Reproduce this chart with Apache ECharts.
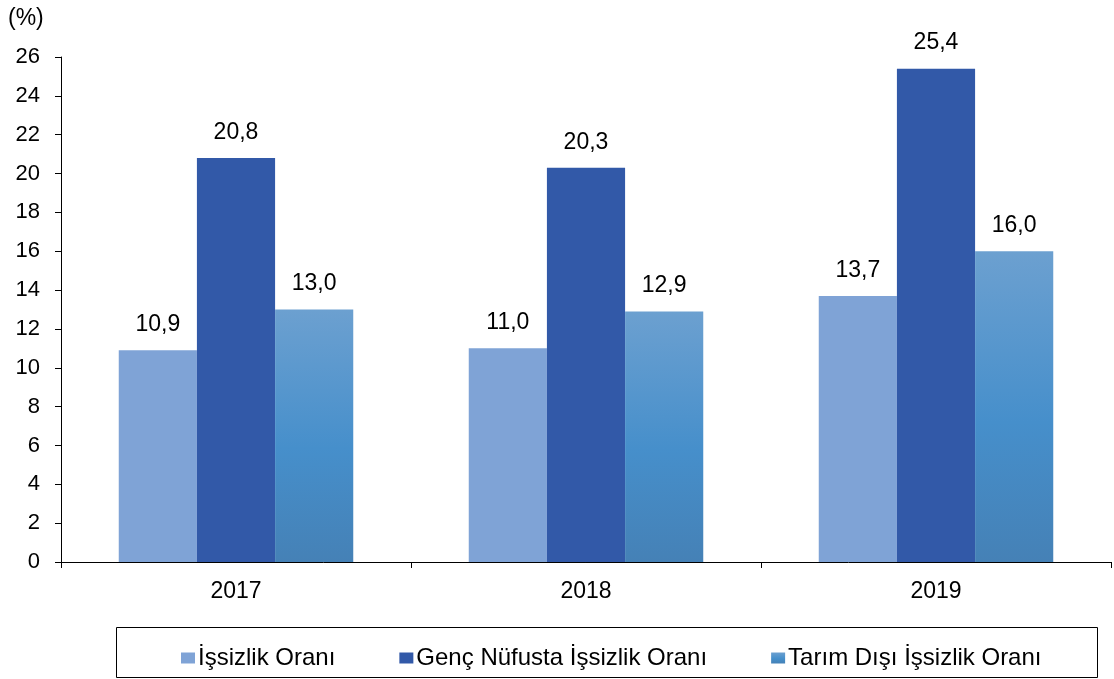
<!DOCTYPE html>
<html><head><meta charset="utf-8">
<script src="https://cdn.jsdelivr.net/npm/echarts@6/dist/echarts.min.js"></script>
<style>html,body{margin:0;padding:0;background:#fff}#c{width:1114px;height:679px}</style>
</head><body><div id="c"></div>
<script>
const categories = ['2017', '2018', '2019'];
const seriesNames = ['İşsizlik Oranı', 'Genç Nüfusta İşsizlik Oranı', 'Tarım Dışı İşsizlik Oranı'];
const issizlik = [10.9, 11.0, 13.7];
const gencIssizlik = [20.8, 20.3, 25.4];
const tarimDisi = [13.0, 12.9, 16.0];
const yTicks = [0, 2, 4, 6, 8, 10, 12, 14, 16, 18, 20, 22, 24, 26];

const FONT = '"Liberation Sans", Arial, sans-serif';
const chart = echarts.init(document.getElementById('c'), null, {renderer: 'canvas'});
const grad = new echarts.graphic.LinearGradient(0, 0, 0, 1, [
  {offset: 0, color: '#6CA0D0'},
  {offset: 0.55, color: '#468FCB'},
  {offset: 1, color: '#4581B6'}
]);
const lbl = {
  show: true, position: 'top', distance: 14, color: '#000',
  fontFamily: FONT, fontSize: 23,
  formatter: p => p.value.toFixed(1).replace('.', ',')
};
chart.setOption({
  animation: false,
  textStyle: {fontFamily: FONT},
  grid: {left: 61, top: 57, right: 3, bottom: 117, containLabel: false},
  graphic: [
    {type: 'text', left: 8, top: 7, style: {text: '(%)', font: '23px ' + FONT, fill: '#000'}},
    {type: 'rect', shape: {x: 116.5, y: 627.5, width: 981, height: 50}, style: {fill: 'none', stroke: '#000', lineWidth: 1}}
  ],
  legend: {
    top: 641, left: 176, itemWidth: 14, itemHeight: 11, itemGap: 64,
    icon: 'rect',
    textStyle: {fontFamily: FONT, fontSize: 24, color: '#000', padding: [0, 0, 0, -2]},
    data: seriesNames
  },
  xAxis: {
    type: 'category', data: categories,
    axisLine: {lineStyle: {color: '#000', width: 1}},
    axisTick: {show: true, length: 6, lineStyle: {color: '#000'}},
    axisLabel: {color: '#000', fontSize: 23, fontFamily: FONT, margin: 18}
  },
  yAxis: {
    type: 'value', min: 0, max: 26, interval: 2,
    axisLine: {show: true, lineStyle: {color: '#000', width: 1}},
    axisTick: {show: true, length: 6, lineStyle: {color: '#000'}},
    splitLine: {show: false},
    axisLabel: {color: '#000', fontSize: 22, fontFamily: FONT, margin: 21,
      formatter: v => yTicks.includes(v) ? String(v) : ''}
  },
  series: [
    {name: seriesNames[0], type: 'bar', data: issizlik, itemStyle: {color: '#7FA3D6'},
     barGap: '0%', barCategoryGap: '33%', label: lbl},
    {name: seriesNames[1], type: 'bar', data: gencIssizlik, itemStyle: {color: '#3259A8'}, label: lbl},
    {name: seriesNames[2], type: 'bar', data: tarimDisi, itemStyle: {color: grad}, label: lbl}
  ]
});
</script></body></html>
